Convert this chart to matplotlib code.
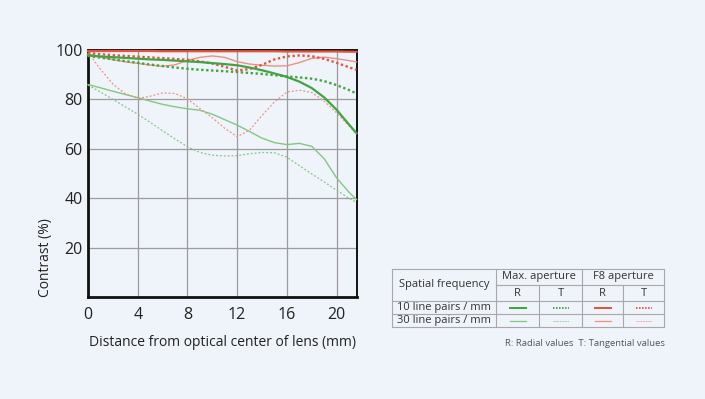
import numpy as np
import matplotlib
matplotlib.use("Agg")
import matplotlib.pyplot as plt

plt.rcParams['font.family'] = ['Open Sans', 'DejaVu Sans']

# distance from optical centre (mm)
dist = [0, 1, 2, 3, 4, 5, 6, 7, 8, 9, 10, 11, 12, 13, 14, 15, 16, 17, 18, 19, 20, 21, 21.6]

# Max. aperture
max_10_r = [97.8, 97.4, 97.1, 96.8, 96.5, 96.2, 96.0, 95.7, 95.4, 95.1, 94.7, 94.3,
            93.8, 92.9, 91.8, 90.5, 89.1, 87.2, 84.6, 80.8, 75.8, 69.8, 66.3]
max_10_t = [97.6, 96.9, 96.2, 95.5, 94.8, 94.1, 93.5, 92.9, 92.4, 92.0, 91.7, 91.4,
            91.1, 90.7, 90.3, 89.8, 89.3, 88.9, 88.4, 87.4, 85.8, 83.8, 82.4]
max_30_r = [86.0, 84.7, 83.3, 82.0, 80.7, 79.3, 78.0, 77.0, 76.2, 75.6, 74.0, 71.8,
            69.6, 67.0, 64.3, 62.5, 61.7, 62.2, 61.0, 56.0, 48.2, 42.4, 39.5]
max_30_t = [85.8, 83.0, 80.0, 77.0, 74.0, 70.7, 67.3, 64.0, 60.8, 58.5, 57.4, 57.1,
            57.2, 58.0, 58.5, 58.4, 56.6, 53.2, 49.8, 46.6, 43.2, 40.0, 38.3]

# F8 aperture
f8_10_r = [99.6, 99.6, 99.6, 99.6, 99.6, 99.6, 99.5, 99.5, 99.5, 99.5, 99.5, 99.5,
           99.5, 99.5, 99.5, 99.5, 99.4, 99.4, 99.4, 99.4, 99.4, 99.3, 99.3]
f8_10_t = [98.8, 98.3, 97.9, 97.6, 97.3, 97.0, 96.7, 96.4, 96.0, 95.4, 94.5, 93.2,
           91.7, 92.3, 94.0, 96.2, 97.4, 97.8, 97.5, 96.4, 94.8, 93.0, 92.0]
f8_30_r = [98.3, 97.2, 96.1, 95.2, 94.6, 93.9, 93.4, 94.0, 95.8, 97.0, 97.6, 97.0,
           95.3, 94.3, 93.8, 93.5, 93.6, 94.9, 96.6, 97.1, 96.5, 95.7, 95.2]
f8_30_t = [99.0, 92.2, 86.2, 82.3, 80.4, 81.3, 82.6, 82.4, 80.2, 76.3, 72.6, 68.3,
           64.9, 67.6, 73.5, 79.0, 83.0, 83.7, 82.8, 79.3, 74.5, 69.3, 66.0]

x_ticks = [0, 4, 8, 12, 16, 20]
y_ticks = [20, 40, 60, 80, 100]

bg = '#eff3fa'
green_dark = '#40a540'
green_light = '#82c882'
red_dark = '#e4553f'
red_light = '#ef9080'

# style per series: (colour, width, dash)
styles = {
    'max_10_r': (green_dark, 1.6, '-'),
    'max_10_t': (green_dark, 1.7, (0, (1, 1.1))),
    'max_30_r': (green_light, 1.0, '-'),
    'max_30_t': (green_light, 0.9, (0, (1.5, 1.6))),
    'f8_10_r': (red_dark, 1.6, '-'),
    'f8_10_t': (red_dark, 1.7, (0, (1, 1.1))),
    'f8_30_r': (red_light, 1.0, '-'),
    'f8_30_t': (red_light, 0.9, (0, (1.5, 1.6))),
}
series = {
    'max_30_t': max_30_t, 'max_30_r': max_30_r, 'f8_30_t': f8_30_t, 'f8_30_r': f8_30_r,
    'max_10_t': max_10_t, 'f8_10_t': f8_10_t, 'max_10_r': max_10_r, 'f8_10_r': f8_10_r,
}

fig = plt.figure(figsize=(7.05, 3.99), dpi=100, facecolor=bg)
ax = fig.add_axes([88 / 705, (399 - 297) / 399, (356.5 - 88) / 705, (297 - 50) / 399])
ax.set_facecolor(bg)

for key, vals in series.items():
    c, lw, ls = styles[key]
    ax.plot(dist, vals, color=c, lw=lw, linestyle=ls, clip_on=False, zorder=3)

ax.set_xlim(0, 21.6)
ax.set_ylim(0, 100)
ax.set_xticks(x_ticks)
ax.set_yticks(y_ticks)
ax.grid(True, color='#9c9c9c', lw=0.9)
ax.set_axisbelow(True)
ax.tick_params(length=0, labelsize=11.5, colors='#222222')
ax.tick_params(axis='x', pad=7)
ax.tick_params(axis='y', pad=4)
for side, w in [('left', 2.0), ('bottom', 2.0), ('right', 1.4), ('top', 1.4)]:
    ax.spines[side].set_linewidth(w)
    ax.spines[side].set_color('#111111')
ax.set_xlabel('Distance from optical center of lens (mm)', fontsize=10, color='#222222', labelpad=9)
fig.text(45 / 705, 1 - 297 / 399, 'Contrast (%)', rotation=90, ha='center', va='bottom',
         fontsize=10, color='#222222')

# legend table
tab = fig.add_axes([392 / 705, (399 - 327) / 399, (664 - 392) / 705, (327 - 269) / 399])
tab.set_xlim(0, 272)
tab.set_ylim(58, 0)
tab.axis('off')
col_edges = [0, 104, 147, 190, 231, 272]
row_edges = [0, 16, 32, 45, 58]
lc = '#a8a8a8'
tab.plot([0, 272, 272, 0, 0], [0, 0, 58, 58, 0], color=lc, lw=0.8, clip_on=False)
tab.plot([104, 272], [16, 16], color=lc, lw=0.8)
tab.plot([0, 272], [32, 32], color=lc, lw=0.8)
tab.plot([0, 272], [45, 45], color=lc, lw=0.8)
for cx in [104, 190]:
    tab.plot([cx, cx], [0, 58], color=lc, lw=0.8)
for cx in [147, 231]:
    tab.plot([cx, cx], [16, 58], color=lc, lw=0.8)

tc = '#333333'
fs = 8
tab.text(52, 16, 'Spatial frequency', ha='center', va='center', fontsize=fs, color=tc)
tab.text(147, 8, 'Max. aperture', ha='center', va='center', fontsize=fs, color=tc)
tab.text(231, 8, 'F8 aperture', ha='center', va='center', fontsize=fs, color=tc)
for i, lab in enumerate(['R', 'T', 'R', 'T']):
    tab.text((col_edges[i + 1] + col_edges[i + 2]) / 2, 24, lab, ha='center', va='center',
             fontsize=fs, color=tc)
row_keys = [['max_10_r', 'max_10_t', 'f8_10_r', 'f8_10_t'],
            ['max_30_r', 'max_30_t', 'f8_30_r', 'f8_30_t']]
for r, lab in enumerate(['10 line pairs / mm', '30 line pairs / mm']):
    yc = (row_edges[r + 2] + row_edges[r + 3]) / 2
    tab.text(52, yc, lab, ha='center', va='center', fontsize=fs, color=tc)
    for i, key in enumerate(row_keys[r]):
        c, lw, ls = styles[key]
        xc = (col_edges[i + 1] + col_edges[i + 2]) / 2
        tab.plot([xc - 8, xc + 8], [yc, yc], color=c, lw=lw * 0.8 if ls != '-' else lw * 0.9,
                 linestyle=ls if ls == '-' else (0, (0.8, 0.8)))

fig.text(665 / 705, 1 - 343 / 399, 'R: Radial values  T: Tangential values', ha='right',
         va='center', fontsize=6.8, color='#555555')

fig.savefig('out.png', dpi=100, facecolor=bg)
